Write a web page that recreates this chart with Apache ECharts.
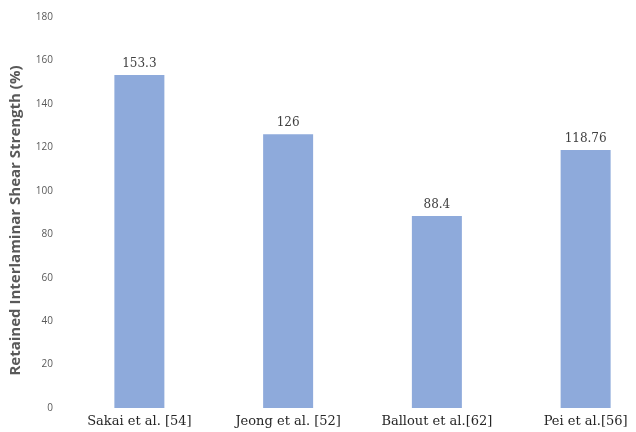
<!DOCTYPE html>
<html><head><meta charset="utf-8">
<script src="https://cdn.jsdelivr.net/npm/echarts@6/dist/echarts.min.js"></script>
<style>html,body{margin:0;padding:0;background:#fff}#c{width:636px;height:432px}</style>
</head><body><div id="c"></div>
<script>
const categories = ['Sakai et al. [54]', 'Jeong et al. [52]', 'Ballout et al.[62]', 'Pei et al.[56]'];
const values = [153.3, 126, 88.4, 118.76];
const yTitle = 'Retained Interlaminar Shear Strength (%)';

const chart = echarts.init(document.getElementById('c'));
chart.setOption({
  animation: false,
  grid: { left: 65, top: 17, right: -24, bottom: 24, containLabel: false, outerBoundsMode: 'none' },
  xAxis: {
    type: 'category', data: categories,
    axisLine: { show: false }, axisTick: { show: false },
    axisLabel: { fontFamily: 'DejaVu Serif', fontSize: 13, color: '#262626', margin: 7, interval: 0 }
  },
  yAxis: {
    type: 'value', min: 0, max: 180, interval: 20,
    splitLine: { show: false }, axisLine: { show: false }, axisTick: { show: false },
    axisLabel: { fontFamily: 'Open Sans', fontSize: 10, color: '#595959', margin: 12 },
    name: yTitle, nameLocation: 'middle', nameGap: 42, nameRotate: 90,
    nameTextStyle: { fontFamily: 'Open Sans', fontSize: 15, fontWeight: 'bold', color: '#595959', padding: [0, 16, 0, 0] }
  },
  series: [{
    type: 'bar', data: values, barWidth: 50,
    itemStyle: { color: '#8eaadb' },
    label: { show: true, position: 'top', distance: 5, fontFamily: 'DejaVu Serif', fontSize: 12, color: '#404040' }
  }]
});
</script></body></html>
